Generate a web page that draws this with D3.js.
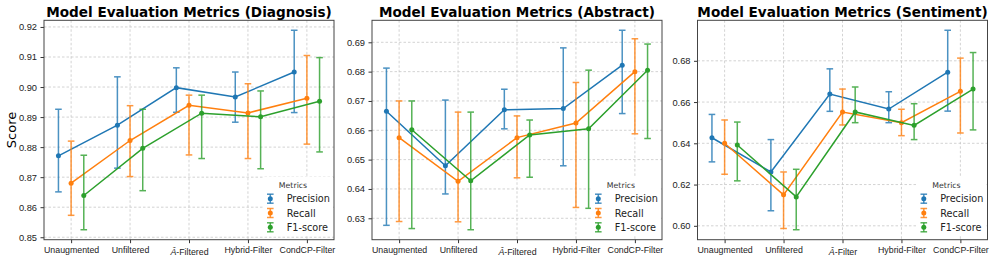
<!DOCTYPE html>
<html lang="en">
<head>
<meta charset="utf-8">
<title>Model Evaluation Metrics</title>
<script src="https://cdn.jsdelivr.net/npm/d3@7"></script>
<style>
  body { margin: 0; background: #fff; }
  svg { display: block; font-family: "DejaVu Sans", sans-serif; }
  .tick text { fill: #222; }
  .x-axis .tick text { font-size: 8.8px; }
  .y-axis .tick text { font-size: 9.3px; }
  .tick line { stroke: #333; }
  .title { font-size: 13.6px; font-weight: bold; fill: #000; }
</style>
</head>
<body>
<script>
// categories and series
var categories = ["Unaugmented", "Unfiltered", "Â-Filtered", "Hybrid-Filter", "CondCP-Filter"];
var categoriesSent = ["Unaugmented", "Unfiltered", "Â-Filter", "Hybrid-Filter", "CondCP-Filter"];
var metrics = ["Precision", "Recall", "F1-score"];
var colors = ["#1f77b4", "#ff7f0e", "#2ca02c"];

// rows: Precision, Recall, F1-score
var diagMean = [[0.8771, 0.8873, 0.8998, 0.8967, 0.9050],
                [0.8680, 0.8822, 0.8939, 0.8914, 0.8963],
                [0.8639, 0.8796, 0.8913, 0.8901, 0.8953]];
var diagLow  = [[0.8651, 0.8730, 0.8916, 0.8883, 0.8915],
                [0.8573, 0.8702, 0.8774, 0.8762, 0.8810],
                [0.8525, 0.8655, 0.8762, 0.8728, 0.8784]];
var diagHigh = [[0.8926, 0.9034, 0.9064, 0.9050, 0.9189],
                [0.8820, 0.8938, 0.8973, 0.9011, 0.9105],
                [0.8773, 0.8926, 0.8973, 0.8987, 0.9098]];

var abstMean = [[0.6665, 0.6479, 0.6670, 0.6674, 0.6822],
                [0.6575, 0.6426, 0.6575, 0.6625, 0.6800],
                [0.6602, 0.6428, 0.6584, 0.6605, 0.6805]];
var abstLow  = [[0.6276, 0.6383, 0.6605, 0.6479, 0.6657],
                [0.6289, 0.6288, 0.6438, 0.6337, 0.6588],
                [0.6265, 0.6261, 0.6440, 0.6334, 0.6572]];
var abstHigh = [[0.6812, 0.6703, 0.6740, 0.6881, 0.6941],
                [0.6700, 0.6662, 0.6649, 0.6763, 0.6912],
                [0.6700, 0.6662, 0.6635, 0.6805, 0.6894]];

var sentMean = [[0.6427, 0.6261, 0.6639, 0.6566, 0.6745],
                [0.6400, 0.6150, 0.6552, 0.6500, 0.6652],
                [0.6392, 0.6140, 0.6552, 0.6487, 0.6663]];
var sentLow  = [[0.6310, 0.6073, 0.6555, 0.6500, 0.6556],
                [0.6250, 0.5987, 0.6489, 0.6437, 0.6450],
                [0.6218, 0.5981, 0.6500, 0.6418, 0.6465]];
var sentHigh = [[0.6540, 0.6418, 0.6761, 0.6650, 0.6948],
                [0.6513, 0.6261, 0.6663, 0.6565, 0.6813],
                [0.6503, 0.6274, 0.6673, 0.6592, 0.6840]];

var diagTicks = [0.85, 0.86, 0.87, 0.88, 0.89, 0.90, 0.91, 0.92];
var abstTicks = [0.63, 0.64, 0.65, 0.66, 0.67, 0.68, 0.69];
var sentTicks = [0.60, 0.62, 0.64, 0.66, 0.68];

var w = 997, h = 264;
var plotTop = 20.3, ph = 219.4, pw = 290;
var offset = 0.215; // category offset of each metric

var panels = [
  {title: "Model Evaluation Metrics (Diagnosis)", left: 44, cats: categories, mean: diagMean, low: diagLow, high: diagHigh, ticks: diagTicks, ylabel: true},
  {title: "Model Evaluation Metrics (Abstract)", left: 372, cats: categories, mean: abstMean, low: abstLow, high: abstHigh, ticks: abstTicks},
  {title: "Model Evaluation Metrics (Sentiment)", left: 697.5, cats: categoriesSent, mean: sentMean, low: sentLow, high: sentHigh, ticks: sentTicks}
];

var svg = d3.select("body").append("svg")
  .attr("width", w)
  .attr("height", h);

panels.forEach(function(p) {
  var g = svg.append("g").attr("transform", "translate(" + p.left + "," + plotTop + ")");

  var lo = d3.min(p.low, function(r) { return d3.min(r); });
  var hi = d3.max(p.high, function(r) { return d3.max(r); });
  var pad = (hi - lo) * 0.05;

  var x = d3.scaleLinear().domain([-0.46, 4.46]).range([0, pw]);
  var y = d3.scaleLinear().domain([lo - pad, hi + pad]).range([ph, 0]);

  // grid
  g.append("g").selectAll("line").data(p.ticks).enter().append("line")
    .attr("x1", 0).attr("x2", pw)
    .attr("y1", function(d) { return y(d); }).attr("y2", function(d) { return y(d); })
    .attr("stroke", "#c8c8c8").attr("stroke-width", 0.8).attr("stroke-dasharray", "2.5,2");
  g.append("g").selectAll("line").data(d3.range(5)).enter().append("line")
    .attr("y1", 0).attr("y2", ph)
    .attr("x1", function(d) { return x(d); }).attr("x2", function(d) { return x(d); })
    .attr("stroke", "#c8c8c8").attr("stroke-width", 0.8).attr("stroke-dasharray", "2.5,2");

  // series
  metrics.forEach(function(m, mi) {
    var dx = (mi - 1) * offset;
    var pts = p.mean[mi].map(function(v, i) {
      return {x: i + dx, y: v, lo: p.low[mi][i], hi: p.high[mi][i]};
    });
    var sg = g.append("g");
    sg.append("path")
      .datum(pts)
      .attr("fill", "none")
      .attr("stroke", colors[mi])
      .attr("stroke-width", 1.5)
      .attr("d", d3.line().x(function(d) { return x(d.x); }).y(function(d) { return y(d.y); }));
    var eb = sg.selectAll(".eb").data(pts).enter().append("g")
      .attr("stroke", colors[mi]).attr("stroke-width", 1.5).attr("opacity", 0.8);
    eb.append("line")
      .attr("x1", function(d) { return x(d.x); }).attr("x2", function(d) { return x(d.x); })
      .attr("y1", function(d) { return y(d.lo); }).attr("y2", function(d) { return y(d.hi); });
    eb.append("line")
      .attr("x1", function(d) { return x(d.x) - 3.3; }).attr("x2", function(d) { return x(d.x) + 3.3; })
      .attr("y1", function(d) { return y(d.lo); }).attr("y2", function(d) { return y(d.lo); });
    eb.append("line")
      .attr("x1", function(d) { return x(d.x) - 3.3; }).attr("x2", function(d) { return x(d.x) + 3.3; })
      .attr("y1", function(d) { return y(d.hi); }).attr("y2", function(d) { return y(d.hi); });
    sg.selectAll("circle").data(pts).enter().append("circle")
      .attr("cx", function(d) { return x(d.x); })
      .attr("cy", function(d) { return y(d.y); })
      .attr("r", 2.5)
      .attr("fill", colors[mi]);
  });

  // axes
  var yAxis = d3.axisLeft(y).tickValues(p.ticks).tickSize(3.5).tickPadding(3.5).tickFormat(d3.format(".2f"));
  var ya = g.append("g").attr("class", "y-axis").call(yAxis);
  ya.select(".domain").remove();

  var xAxis = d3.axisBottom(x).tickValues(d3.range(5)).tickSize(3.5).tickPadding(3.5)
    .tickFormat(function(i) { return p.cats[i]; });
  var xa = g.append("g").attr("class", "x-axis").attr("transform", "translate(0," + ph + ")").call(xAxis);
  xa.select(".domain").remove();
  xa.selectAll(".tick text").each(function(d) {
    var lab = p.cats[d];
    if (lab.charAt(0) === "Â") {
      var t = d3.select(this).text("").attr("dy", "1.0em");
      t.append("tspan").style("font-style", "italic").text("Â");
      t.append("tspan").text(lab.slice(1));
    }
  });

  // frame
  g.append("rect")
    .attr("width", pw).attr("height", ph)
    .attr("fill", "none").attr("stroke", "#444").attr("stroke-width", 1);

  // legend
  var lg = g.append("g").attr("transform", "translate(" + (pw - 71) + "," + (177 - plotTop) + ")");
  lg.append("rect").attr("width", 70).attr("height", 58).attr("fill", "#fff");
  lg.append("text").attr("x", 30).attr("y", 11).attr("text-anchor", "middle")
    .attr("font-size", 7.8).attr("fill", "#333").text("Metrics");
  metrics.forEach(function(m, mi) {
    var cy = 21.7 + mi * 14.3;
    var hx = 7.3;
    var hg = lg.append("g").attr("stroke", colors[mi]).attr("stroke-width", 1.5);
    hg.append("line").attr("x1", hx).attr("x2", hx).attr("y1", cy - 4.5).attr("y2", cy + 4.5).attr("opacity", 0.8);
    hg.append("line").attr("x1", hx - 3.3).attr("x2", hx + 3.3).attr("y1", cy - 4.5).attr("y2", cy - 4.5).attr("opacity", 0.8);
    hg.append("line").attr("x1", hx - 3.3).attr("x2", hx + 3.3).attr("y1", cy + 4.5).attr("y2", cy + 4.5).attr("opacity", 0.8);
    lg.append("circle").attr("cx", hx).attr("cy", cy).attr("r", 2.5).attr("fill", colors[mi]);
    lg.append("text").attr("x", 23.7).attr("y", cy + 3.5)
      .attr("font-size", 9.7).attr("fill", "#222").text(m);
  });

  // title
  g.append("text").attr("class", "title")
    .attr("x", pw / 2).attr("y", 17 - plotTop)
    .attr("text-anchor", "middle").text(p.title);

  if (p.ylabel) {
    g.append("text")
      .attr("transform", "translate(" + (16 - p.left) + "," + (ph / 2) + ") rotate(-90)")
      .attr("text-anchor", "middle")
      .attr("font-size", 13)
      .attr("fill", "#000")
      .text("Score");
  }
});
</script>
</body>
</html>
